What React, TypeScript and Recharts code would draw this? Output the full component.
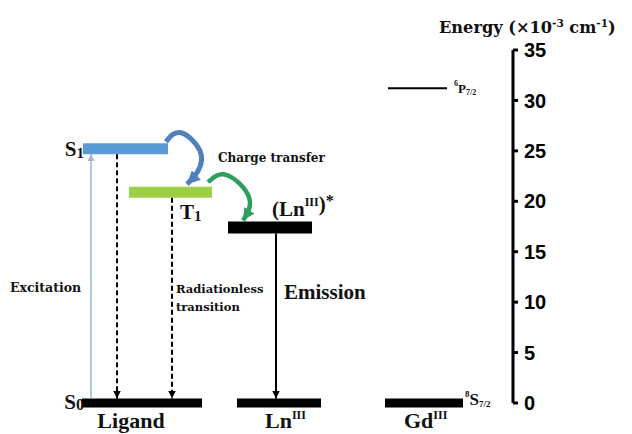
import React from "react";
import { ComposedChart, Line, XAxis, YAxis, ReferenceDot } from "recharts";

const SERIF = '"Liberation Serif", "Times New Roman", serif';
const WIDE_SERIF = '"DejaVu Serif", serif';
const SANS = '"Liberation Sans", Arial, sans-serif';

const BLUE = "#5b9bd5";
const GREEN = "#9bcf45";
const BLUE_ARC = "#4f81bd";
const GREEN_ARC = "#2e9e5e";
const EXC = "#9db4d2";

// Energy levels, in 10^3 cm^-1
const levelIds = ["S1", "T1", "LnStar", "S0", "Ln", "Gd8S", "Gd6P"];
const levelEnergies = [25.2, 20.9, 17.4, 0, 0, 0, 31.2];
const energyTicks = [0, 5, 10, 15, 20, 25, 30, 35];

// Vertical transitions between levels
const transitionFrom = ["S0", "S1", "T1", "LnStar"];
const transitionTo = ["S1", "S0", "S0", "Ln"];

// Layout only: x extent on the hidden horizontal scale, bar thickness, colour
const LEVEL_LAYOUT: Record<string, { x1: number; x2: number; w: number; color: string }> = {
  S1: { x1: 83, x2: 168, w: 11, color: BLUE },
  T1: { x1: 129, x2: 212, w: 11, color: GREEN },
  LnStar: { x1: 228, x2: 312, w: 12, color: "#000" },
  S0: { x1: 82, x2: 202, w: 9, color: "#000" },
  Ln: { x1: 237, x2: 321, w: 9, color: "#000" },
  Gd8S: { x1: 385, x2: 463, w: 9, color: "#000" },
  Gd6P: { x1: 388, x2: 447, w: 2, color: "#000" },
};
const TRANSITION_LAYOUT = [
  { x: 91, color: EXC, w: 1.5, dash: undefined, head: "headExc" },
  { x: 117, color: "#000", w: 2, dash: "5 3", head: "headBlack" },
  { x: 172, color: "#000", w: 2, dash: "5 3", head: "headBlack" },
  { x: 276, color: "#000", w: 2, dash: undefined, head: "headBlack" },
];
// curved energy-transfer connectors (x, energy waypoints)
const ARCS = [
  { color: BLUE_ARC, w: 5, head: "headBlue", pts: [[166, 25.9], [181, 26.8], [200, 25.0], [198, 23.0], [187, 21.7]] },
  { color: GREEN_ARC, w: 4.5, head: "headGreen", pts: [[208, 21.9], [227, 22.6], [249, 20.4], [243, 18.1]] },
];

const W = 632;
const H = 434;
const TOP = 50;
const BOTTOM = 31;
const AXIS_W = 119;
const PPU = (H - TOP - BOTTOM) / 35;

const energyOf = (id: string) => levelEnergies[levelIds.indexOf(id)];

const levelSeries = levelIds.map((id) => {
  const l = LEVEL_LAYOUT[id];
  return { id, l, data: [{ x: l.x1, E: energyOf(id) }, { x: l.x2, E: energyOf(id) }] };
});

const transitionSeries = transitionFrom.map((from, i) => {
  const to = transitionTo[i];
  const ef = energyOf(from);
  const et = energyOf(to);
  const dir = et > ef ? 1 : -1;
  const start = ef + (dir * LEVEL_LAYOUT[from].w) / 2 / PPU;
  const end = et - (dir * LEVEL_LAYOUT[to].w) / 2 / PPU;
  const t = TRANSITION_LAYOUT[i];
  return { t, data: [{ x: t.x, E: start }, { x: t.x, E: end }] };
});

type Note = { x: number; y: number; anchor?: "start" | "middle" | "end"; size: number; font?: string; body: React.ReactNode };

const notes: Note[] = [
  { x: 84, y: 24.5, anchor: "end", size: 21, body: <>S<tspan fontSize={15} dy={2}>1</tspan></> },
  { x: 180, y: 18.2, size: 21, body: <>T<tspan fontSize={15} dy={2}>1</tspan></> },
  {
    x: 272, y: 18.5, size: 21,
    body: <>(Ln<tspan fontSize={12} dy={-10}>III</tspan><tspan dy={5}>)</tspan><tspan fontSize={16} dy={-5}>*</tspan></>,
  },
  { x: 218, y: 23.9, size: 12, font: WIDE_SERIF, body: "Charge transfer" },
  { x: 10, y: 11.0, size: 12.5, font: WIDE_SERIF, body: "Excitation" },
  { x: 176, y: 10.9, size: 11.5, font: WIDE_SERIF, body: "Radiationless" },
  { x: 176, y: 9.1, size: 11.5, font: WIDE_SERIF, body: "transition" },
  { x: 284, y: 10.3, size: 21, body: "Emission" },
  { x: 84, y: -0.6, anchor: "end", size: 21, body: <>S<tspan fontSize={16} dy={1}>0</tspan></> },
  { x: 131, y: -2.45, anchor: "middle", size: 22, body: "Ligand" },
  { x: 265, y: -2.45, size: 22, body: <>Ln<tspan fontSize={12} dy={-9}>III</tspan></> },
  { x: 404, y: -2.45, size: 22, body: <>Gd<tspan fontSize={12} dy={-9}>III</tspan></> },
  {
    x: 465, y: -0.2, size: 17,
    body: <><tspan fontSize={9} dy={-8}>8</tspan><tspan dy={8}>S</tspan><tspan fontSize={9} dy={2}>7/2</tspan></>,
  },
  {
    x: 454, y: 30.7, size: 13,
    body: <><tspan fontSize={8} dy={-7}>6</tspan><tspan dy={7}>P</tspan><tspan fontSize={8} dy={2}>7/2</tspan></>,
  },
  {
    x: 439, y: 36.7, size: 16.2, font: WIDE_SERIF,
    body: <>Energy (×10<tspan fontSize={10.5} dy={-6}>-3</tspan><tspan dy={6}> cm</tspan><tspan fontSize={10.5} dy={-6}>-1</tspan><tspan dy={6}>)</tspan></>,
  },
];

const head = (id: string, color: string, size: number) => (
  <marker
    id={id}
    viewBox="0 0 10 10"
    refX={10}
    refY={5}
    markerWidth={size}
    markerHeight={size}
    markerUnits="userSpaceOnUse"
    orient="auto"
  >
    <path d="M0,0 L10,5 L0,10 z" fill={color} />
  </marker>
);

export default function App() {
  return (
    <div style={{ position: "absolute", left: 0, top: 0, width: W, height: H, background: "#fff" }}>
      <ComposedChart width={W} height={H} margin={{ top: TOP, right: 0, bottom: BOTTOM, left: 0 }}>
        <defs>
          {head("headBlack", "#000", 8)}
          {head("headExc", EXC, 7)}
          {head("headBlue", BLUE_ARC, 13)}
          {head("headGreen", GREEN_ARC, 12)}
        </defs>
        <XAxis type="number" dataKey="x" domain={[0, W - AXIS_W]} hide />
        <YAxis
          orientation="right"
          type="number"
          domain={[0, 35]}
          ticks={energyTicks}
          width={AXIS_W}
          axisLine={{ stroke: "#000", strokeWidth: 3 }}
          tickLine={{ stroke: "#000", strokeWidth: 3 }}
          tickSize={5}
          tickMargin={6}
          tick={{ fill: "#000", fontSize: 20, fontWeight: "bold", fontFamily: SANS }}
        />
        {levelSeries.map((s) => (
          <Line
            key={s.id}
            data={s.data}
            dataKey="E"
            type="linear"
            stroke={s.l.color}
            strokeWidth={s.l.w}
            strokeLinecap="butt"
            dot={false}
            activeDot={false}
            isAnimationActive={false}
          />
        ))}
        {transitionSeries.map((s, i) => (
          <Line
            key={"tr" + i}
            data={s.data}
            dataKey="E"
            type="linear"
            stroke={s.t.color}
            strokeWidth={s.t.w}
            strokeDasharray={s.t.dash}
            markerEnd={`url(#${s.t.head})`}
            dot={false}
            activeDot={false}
            isAnimationActive={false}
          />
        ))}
        {ARCS.map((a, i) => (
          <Line
            key={"arc" + i}
            data={a.pts.map(([x, E]) => ({ x, E }))}
            dataKey="E"
            type="natural"
            stroke={a.color}
            strokeWidth={a.w}
            markerEnd={`url(#${a.head})`}
            dot={false}
            activeDot={false}
            isAnimationActive={false}
          />
        ))}
        {notes.map((n, i) => (
          <ReferenceDot
            key={"n" + i}
            x={n.x}
            y={n.y}
            r={1}
            ifOverflow="visible"
            shape={(p: any) => (
              <text
                x={p.cx}
                y={p.cy}
                textAnchor={n.anchor ?? "start"}
                fontFamily={n.font ?? SERIF}
                fontWeight="bold"
                fontSize={n.size}
                fill="#111"
              >
                {n.body}
              </text>
            )}
          />
        ))}
      </ComposedChart>
    </div>
  );
}
